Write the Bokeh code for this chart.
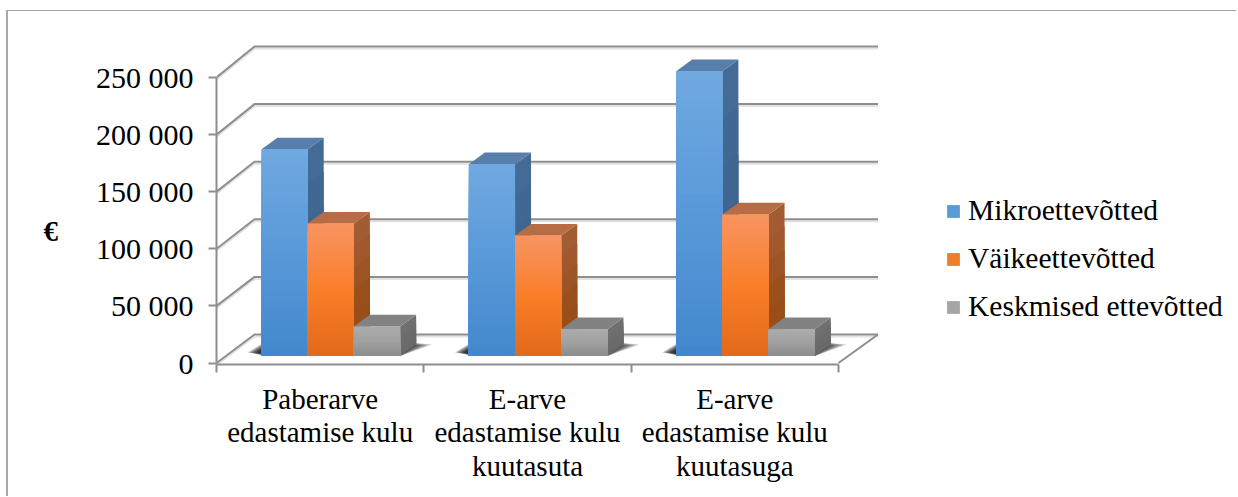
from bokeh.plotting import figure
from bokeh.embed import file_html
from bokeh.resources import INLINE
from bokeh.models import FixedTicker, Legend, LegendItem, Range1d

categories = ["Paberarve\nedastamise kulu", "E-arve\nedastamise kulu\nkuutasuta", "E-arve\nedastamise kulu\nkuutasuga"]
series_names = ["Mikroettevõtted", "Väikeettevõtted", "Keskmised ettevõtted"]
mikro = [180500, 167500, 249000]
vaike = [115500, 105000, 123500]
keskmised = [25500, 23000, 23000]
y_ticks = [0, 50000, 100000, 150000, 200000, 250000]
y_labels = ["0", "50 000", "100 000", "150 000", "200 000", "250 000"]

FONT = "Liberation Serif"
OX, OY = 8, 11          # canvas origin in the window
AX_L, AX_B, Y0 = 216, 364, 362.5
CAT_W = 207.33
PER_PX = 250000 / 285.5
def wx(px): return px / CAT_W
def wy(px): return px * PER_PX
DX, DY = wx(38), wy(31)      # wall depth
BDX, BDY = wx(16), wy(11.7)  # bar depth
SHY = wy(7.5)                # bar base above floor front
BAR_W = wx(46.2)
BAR_START = wx(45)

W, H = 1238 - OX, 497 - OY
p = figure(width=W, height=H, output_backend="svg", toolbar_location=None,
           x_range=Range1d(0, wx(1238 - AX_L)),
           y_range=Range1d(wy(Y0 - AX_B), wy(Y0 - OY)),
           min_border_left=AX_L - OX, min_border_right=0, min_border_top=0,
           min_border_bottom=H - (AX_B - OY), outline_line_color=None,
           background_fill_color="white", border_fill_color="white")
p.margin = (10, 0, 0, 6)
p.styles = {"border-top": "1px solid #a2a2a2", "border-left": "2px solid #a8a8a8"}
p.grid.visible = False

GRID = "#8e8e8e"
yax = p.yaxis[0]
yax.ticker = FixedTicker(ticks=y_ticks)
yax.major_label_overrides = dict(zip(y_ticks, y_labels))
yax.bounds = (0, 250000)
yax.axis_line_color = GRID; yax.axis_line_width = 2
yax.major_tick_line_color = GRID; yax.major_tick_line_width = 2
yax.major_tick_out = 8; yax.major_tick_in = 0
yax.minor_tick_line_color = None
yax.major_label_standoff = 15
yax.major_label_text_font = FONT; yax.major_label_text_font_size = "30px"
yax.major_label_text_color = "black"
yax.axis_label = "\n\n€"
yax.axis_label_orientation = "horizontal"
yax.axis_label_standoff = 35
yax.axis_label_text_font = FONT; yax.axis_label_text_font_size = "29px"
yax.axis_label_text_font_style = "bold"; yax.axis_label_text_color = "black"
yax.axis_label_text_line_height = 1.35

xax = p.xaxis[0]
centers = [i + 0.5 for i in range(len(categories))]
xax.ticker = FixedTicker(ticks=centers, minor_ticks=list(range(len(categories) + 1)))
xax.major_label_overrides = dict(zip(centers, categories))
xax.bounds = (0, len(categories))
xax.axis_line_color = GRID; xax.axis_line_width = 2
xax.major_tick_line_color = None; xax.major_tick_out = 0; xax.major_tick_in = 0
xax.minor_tick_line_color = GRID; xax.minor_tick_line_width = 2
xax.minor_tick_out = 8; xax.minor_tick_in = 0
xax.major_label_standoff = 10
xax.major_label_text_font = FONT; xax.major_label_text_font_size = "29px"
xax.major_label_text_color = "black"
xax.major_label_text_align = "center"
xax.major_label_text_line_height = 1.05

right = len(categories) + DX + wx(1.5)
def back(v): return v + DY - wy(2.5) * (1 - v / y_ticks[-1])
for col, off, w in (("#e2e2e2", wy(-2), 2), (GRID, 0, 2)):
    xs = [[0, DX, right] for v in y_ticks]
    ys = [[v + off, back(v) + off, back(v) + off] for v in y_ticks]
    p.multi_line(xs, ys, line_color=col, line_width=w)
# floor's right edge
p.line([len(categories), right], [0, back(0)], line_color=GRID, line_width=2)

def lerp3(stops, t):
    n = len(stops) - 1
    i = min(int(t * n), n - 1)
    f = t * n - i
    return "#%02x%02x%02x" % tuple(round(a + (b - a) * f) for a, b in zip(stops[i], stops[i + 1]))

STYLES = [
    dict(front=[(112, 168, 224), (88, 152, 216), (66, 135, 205)],
         side=[(68, 106, 150), (60, 100, 142), (56, 94, 134)], top=(88, 126, 171), mid="#5b9bd5"),
    dict(front=[(248, 148, 96), (250, 125, 40), (225, 105, 25)],
         side=[(162, 92, 52), (155, 80, 28), (148, 72, 18)], top=(182, 108, 68), mid="#f07d2a"),
    dict(front=[(172, 172, 172), (160, 160, 160), (140, 140, 140)],
         side=[(112, 112, 112), (108, 108, 108), (104, 104, 104)], top=(130, 130, 130), mid="#a5a5a5"),
]
all_values = [mikro, vaike, keskmised]

# soft floor shadows
for g in range(len(categories)):
    gl = g + BAR_START
    gr = gl + 3 * BAR_W
    for k in range(8):
        e = wx(14 - 1.4 * k)
        e2 = wx(32 - 3.6 * k)
        p.patch([gl - e, gl + wx(6), gr, gr + e2, gr + wx(16) - e / 2, gl + wx(16) - e],
                [SHY + wy(3), SHY - wy(0.5), SHY - wy(0.5), SHY + wy(11 - k * .3), SHY + wy(13), SHY + wy(13)],
                fill_color="black", fill_alpha=0.18, line_color=None)

N = 30
legend_items = []
for k, (name, values, st) in enumerate(zip(series_names, all_values, STYLES)):
    lefts = [g + BAR_START + k * BAR_W for g in range(len(values))]
    for g, (l, v) in enumerate(zip(lefts, values)):
        r = l + BAR_W
        b, t = SHY, v + SHY
        # side face, top face
        for n in range(6):
            f = n / 6
            level = t - (t - b) * f
            p.patch([r, r + BDX, r + BDX, r], [b, b + BDY, level + BDY, level],
                    fill_color=lerp3(st["side"], f), line_color=None)
        p.patch([l, l + BDX, r + BDX, r], [t, t + BDY, t + BDY, t],
                fill_color="#%02x%02x%02x" % st["top"], line_color=None)
    cx = [l + BAR_W / 2 for l in lefts]
    tops = [v + SHY for v in values]
    base = p.vbar(x=cx, width=BAR_W, bottom=SHY, top=tops, fill_color=st["mid"], line_color=None)
    legend_items.append(LegendItem(label=name, renderers=[base]))
    # vertical gradient laid over the bar
    for n in range(N):
        f = n / N
        p.vbar(x=cx, width=BAR_W, bottom=SHY,
               top=[SHY + (t_ - SHY) * (1 - f) for t_ in tops],
               fill_color=lerp3(st["front"], f), line_color=None)

leg = Legend(items=legend_items, location=(945 - AX_L, AX_B - 323),
             border_line_color=None, background_fill_alpha=0, padding=0, margin=0,
             glyph_width=16, glyph_height=16, label_standoff=7, spacing=15,
             label_height=30,
             label_text_font=FONT, label_text_font_size="29.5px", label_text_color="black")
p.add_layout(leg, "center")

open("out.html", "w").write(file_html(p, INLINE))
